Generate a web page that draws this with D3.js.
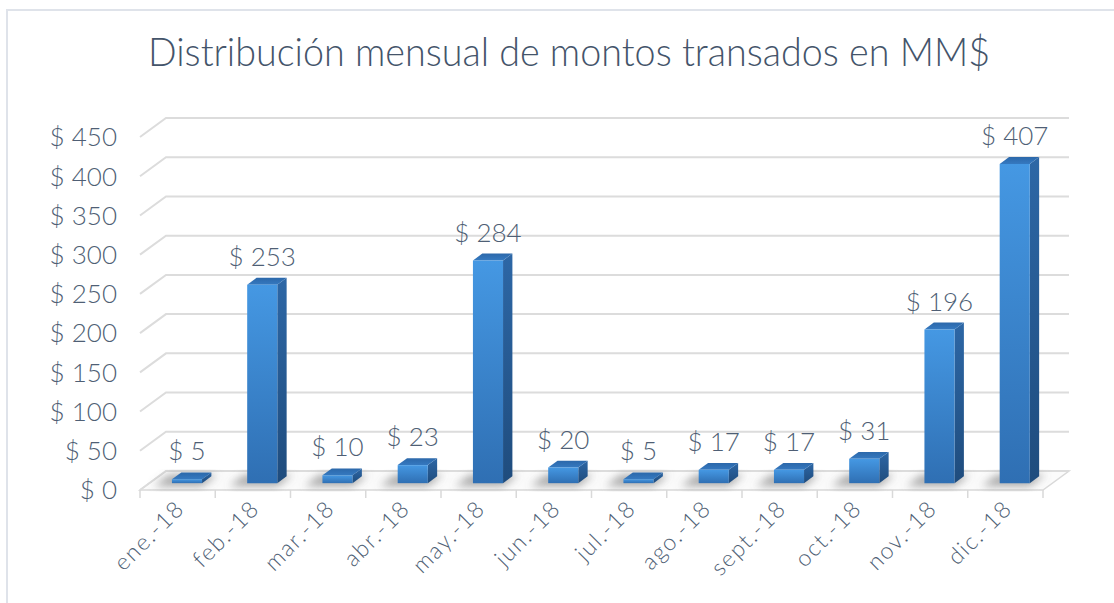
<!DOCTYPE html>
<html>
<head>
<meta charset="utf-8">
<script src="https://cdn.jsdelivr.net/npm/d3@7"></script>
<style>
  html, body { margin: 0; padding: 0; background: #fff; }
  svg { display: block; font-family: 'Lato', 'Open Sans', sans-serif; }
</style>
</head>
<body>
<main></main>
<script>
'use strict';

const months = ['ene.-18', 'feb.-18', 'mar.-18', 'abr.-18', 'may.-18', 'jun.-18',
  'jul.-18', 'ago.-18', 'sept.-18', 'oct.-18', 'nov.-18', 'dic.-18'];
const amounts = [5, 253, 10, 23, 284, 20, 5, 17, 17, 31, 196, 407];
const yTicks = [0, 50, 100, 150, 200, 250, 300, 350, 400, 450];
const title = 'Distribución mensual de montos transados en MM$';

const width = 1114,
  height = 603;

// depth of the 3d box (screen offset from front edge to back wall)
const depth = {dx: 26, dy: 19};
const barZ = [0.36, 0.72];

const svg = d3.select('main')
  .append('svg')
  .attr('width', width)
  .attr('height', height);

const defs = svg.append('defs');

const grad = (id, stops, horizontal) => {
  const g = defs.append('linearGradient')
    .attr('id', id)
    .attr('x1', 0).attr('y1', 0)
    .attr('x2', horizontal ? 1 : 0).attr('y2', horizontal ? 0 : 1);
  stops.forEach(([off, c]) => g.append('stop').attr('offset', off).attr('stop-color', c));
};
grad('front', [[0, '#4598e3'], [1, '#2f6fb3']]);
grad('side', [[0, '#2d67a6'], [1, '#1f4c7d']]);
grad('topface', [[0, '#2c68aa'], [1, '#3579c0']]);

defs.append('filter')
  .attr('id', 'blur')
  .attr('x', '-50%').attr('y', '-50%').attr('width', '200%').attr('height', '200%')
  .append('feGaussianBlur')
  .attr('stdDeviation', 4);

// frame
svg.append('path')
  .attr('d', 'M7,603 L7,10 L1114,10')
  .attr('fill', 'none')
  .attr('stroke', '#dfe3ea')
  .attr('stroke-width', 2);

// title
svg.append('text')
  .attr('x', 569)
  .attr('y', 66)
  .attr('text-anchor', 'middle')
  .attr('textLength', 842)
  .attr('lengthAdjust', 'spacingAndGlyphs')
  .style('font-size', '40px')
  .style('font-weight', 300)
  .attr('fill', '#44546a')
  .text(title);

const xScale = d3.scaleBand()
  .domain(months)
  .range([140, 1043])
  .padding(0);

const yScale = d3.scaleLinear()
  .domain([0, 450])
  .range([490, 137]);

const barWidth = xScale.bandwidth() * 0.4;

const px = (x, z) => x + z * depth.dx;
const py = (v, z) => yScale(v) - z * depth.dy;
const poly = pts => 'M' + pts.map(p => p.join(',')).join('L') + 'Z';

// floor
const x0 = xScale.range()[0],
  x1 = xScale.range()[1];
svg.append('path')
  .attr('d', poly([[px(x0, 0), py(0, 0)], [px(x1, 0), py(0, 0)], [px(x1, 1), py(0, 1)], [px(x0, 1), py(0, 1)]]))
  .attr('fill', '#fbfbfb')
  .attr('stroke', '#d9d9d9')
  .attr('stroke-width', 1.5);

// gridlines: back wall + side slant
const grid = svg.append('g')
  .attr('fill', 'none')
  .attr('stroke', '#dcdcdc')
  .attr('stroke-width', 2);

grid.selectAll('path')
  .data(yTicks)
  .enter()
  .append('path')
  .attr('d', v => `M${px(x0, 0)},${py(v, 0)}L${px(x0, 1)},${py(v, 1)}L${px(x1, 1)},${py(v, 1)}`);

// ticks under floor
svg.append('g')
  .selectAll('line')
  .data(months.concat(['end']))
  .enter()
  .append('line')
  .attr('x1', (d, i) => x0 + i * xScale.step())
  .attr('x2', (d, i) => x0 + i * xScale.step())
  .attr('y1', yScale(0))
  .attr('y2', yScale(0) + 8)
  .attr('stroke', '#d9d9d9')
  .attr('stroke-width', 1.5);

// y axis labels
svg.append('g')
  .selectAll('text')
  .data(yTicks)
  .enter()
  .append('text')
  .attr('x', 117)
  .attr('y', v => yScale(v))
  .attr('dy', '0.36em')
  .attr('text-anchor', 'end')
  .style('font-size', '26px')
  .style('font-weight', 300)
  .attr('fill', '#4f5f75')
  .text(v => '$ ' + v);

// x axis labels
svg.append('g')
  .selectAll('text')
  .data(months)
  .enter()
  .append('text')
  .attr('transform', d => `translate(${xScale(d) + xScale.bandwidth() / 2 + 8},${yScale(0) + 20}) rotate(-45)`)
  .attr('text-anchor', 'end')
  .style('font-size', '23px')
  .style('font-weight', 300)
  .style('letter-spacing', '1.5px')
  .attr('fill', '#4f5f75')
  .text(d => d);

const data = months.map((m, i) => ({month: m, value: amounts[i]}));

const barLeft = d => xScale(d.month) + (xScale.bandwidth() - barWidth) / 2;

// shadows
svg.append('g')
  .attr('filter', 'url(#blur)')
  .selectAll('path')
  .data(data)
  .enter()
  .append('path')
  .attr('d', d => {
    const l = barLeft(d) - 14,
      r = barLeft(d) + barWidth + 4;
    return poly([[px(l, 0.2), py(0, 0.2)], [px(r, 0.2), py(0, 0.2)], [px(r, 0.8), py(0, 0.8)], [px(l, 0.8), py(0, 0.8)]]);
  })
  .attr('fill', '#6f6f6f')
  .attr('opacity', 0.6);

// bars
const bars = svg.append('g')
  .selectAll('g')
  .data(data)
  .enter()
  .append('g');

const [za, zb] = barZ;

bars.append('path')
  .attr('d', d => {
    const l = barLeft(d),
      r = l + barWidth;
    return poly([[px(r, za), py(0, za)], [px(r, zb), py(0, zb)], [px(r, zb), py(d.value, zb)], [px(r, za), py(d.value, za)]]);
  })
  .attr('fill', 'url(#side)');

bars.append('path')
  .attr('d', d => {
    const l = barLeft(d),
      r = l + barWidth;
    return poly([[px(l, za), py(d.value, za)], [px(r, za), py(d.value, za)], [px(r, zb), py(d.value, zb)], [px(l, zb), py(d.value, zb)]]);
  })
  .attr('fill', 'url(#topface)');

bars.append('path')
  .attr('d', d => {
    const l = barLeft(d),
      r = l + barWidth;
    return poly([[px(l, za), py(0, za)], [px(r, za), py(0, za)], [px(r, za), py(d.value, za)], [px(l, za), py(d.value, za)]]);
  })
  .attr('fill', 'url(#front)');

// data labels
bars.append('text')
  .attr('x', d => px(barLeft(d) + barWidth / 2, za))
  .attr('y', d => py(d.value, zb) - 12)
  .attr('text-anchor', 'middle')
  .style('font-size', '26px')
  .style('font-weight', 300)
  .attr('fill', '#4f5f75')
  .text(d => '$ ' + d.value);
</script>
</body>
</html>
